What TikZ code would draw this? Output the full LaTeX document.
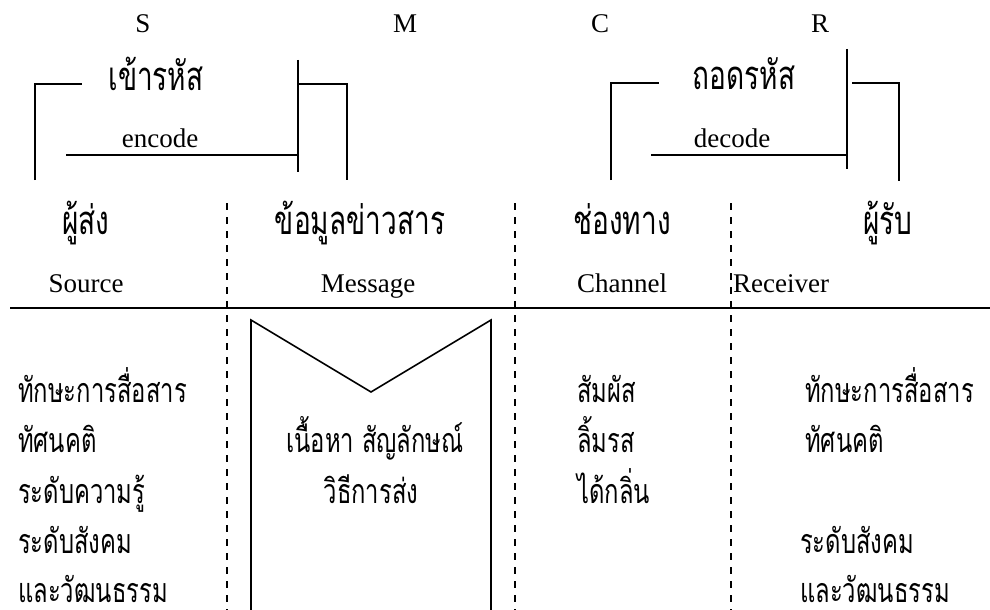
\documentclass[tikz,border=0pt]{standalone}
\usepackage{fontspec}
\setmainfont{Liberation Serif}
\newfontfamily\thaifont[Script=Thai,FakeStretch=0.7]{Loma}
\begin{document}
\begin{tikzpicture}[x=1pt,y=-1pt,
  lat/.style={font=\fontsize{27}{30}\selectfont, inner sep=0pt, anchor=base},
  th/.style={font=\thaifont\fontsize{34}{38}\selectfont, inner sep=0pt, anchor=base},
  thbig/.style={font=\thaifont\fontsize{40}{44}\selectfont, inner sep=0pt, anchor=base},
  solidline/.style={line width=1.6pt},
  dashline/.style={line width=1.6pt, dash pattern=on 7pt off 7pt}]
\useasboundingbox (0,0) rectangle (990,610);
% top letters
\node[lat] (S) at (143,33) {S};
\node[lat] (M) at (405,33) {M};
\node[lat] (C) at (600,33) {C};
\node[lat] (R) at (820,33) {R};
% encode bracket
\node[thbig] (enc) at (156,90) {เข้ารหัส};
\node[lat] (encE) at (160,147) {encode};
\coordinate (e1) at (35,180); \coordinate (e2) at (35,84); \coordinate (e3) at (82,84);
\draw[solidline] (e1) -- (e2) -- (e3);
\coordinate (e4) at (66,155); \coordinate (e5) at (298,155);
\draw[solidline] (e4) -- (e5);
\coordinate (e6) at (298,60); \coordinate (e7) at (298,172);
\draw[solidline] (e6) -- (e7);
\coordinate (e8) at (298,84); \coordinate (e9) at (347,84); \coordinate (e10) at (347,180);
\draw[solidline] (e8) -- (e9) -- (e10);
% decode bracket
\node[thbig] (dec) at (744,89) {ถอดรหัส};
\node[lat] (decE) at (732,147) {decode};
\coordinate (d1) at (611,180); \coordinate (d2) at (611,83); \coordinate (d3) at (659,83);
\draw[solidline] (d1) -- (d2) -- (d3);
\coordinate (d4) at (651,155); \coordinate (d5) at (847,155);
\draw[solidline] (d4) -- (d5);
\coordinate (d6) at (847,49); \coordinate (d7) at (847,169);
\draw[solidline] (d6) -- (d7);
\coordinate (d8) at (852,83); \coordinate (d9) at (899,83); \coordinate (d10) at (899,181);
\draw[solidline] (d8) -- (d9) -- (d10);
% headers
\node[thbig] (hS) at (86,234) {ผู้ส่ง};
\node[thbig] (hM) at (360,234) {ข้อมูลข่าวสาร};
\node[thbig] (hC) at (622,234) {ช่องทาง};
\node[thbig] (hR) at (888,234) {ผู้รับ};
\node[lat] (eS) at (86,292) {Source};
\node[lat] (eM) at (368,292) {Message};
\node[lat] (eC) at (622,292) {Channel};
\node[lat,anchor=base west] (eR) at (733,292) {Receiver};
% separator line
\coordinate (h1) at (10,308); \coordinate (h2) at (990,308);
\draw[solidline] (h1) -- (h2);
% dashed column lines
\foreach \x/\n in {227/a,515/b,731/c}{
  \coordinate (t\n) at (\x,203); \coordinate (b\n) at (\x,610);
  \draw[dashline] (t\n) -- (b\n);
}
% message shape
\coordinate (m1) at (251,610); \coordinate (m2) at (251,320); \coordinate (m3) at (371,392);
\coordinate (m4) at (491,320); \coordinate (m5) at (491,610);
\draw[solidline] (m1) -- (m2) -- (m3) -- (m4) -- (m5);
% source column
\node[th,anchor=base west] (s1) at (18,402) {ทักษะการสื่อสาร};
\node[th,anchor=base west] (s2) at (18,452) {ทัศนคติ};
\node[th,anchor=base west] (s3) at (18,503) {ระดับความรู้};
\node[th,anchor=base west] (s4) at (18,553) {ระดับสังคม};
\node[th,anchor=base west] (s5) at (18,602) {และวัฒนธรรม};
% message column
\node[th] (m6) at (375,452) {เนื้อหา สัญลักษณ์};
\node[th] (m7) at (371,503) {วิธีการส่ง};
% channel column
\node[th,anchor=base west] (c1) at (577,402) {สัมผัส};
\node[th,anchor=base west] (c2) at (577,452) {ลิ้มรส};
\node[th,anchor=base west] (c3) at (577,503) {ได้กลิ่น};
% receiver column
\node[th,anchor=base west] (r1) at (805,402) {ทักษะการสื่อสาร};
\node[th,anchor=base west] (r2) at (805,452) {ทัศนคติ};
\node[th,anchor=base west] (r4) at (800,553) {ระดับสังคม};
\node[th,anchor=base west] (r5) at (800,602) {และวัฒนธรรม};
\end{tikzpicture}
\end{document}
